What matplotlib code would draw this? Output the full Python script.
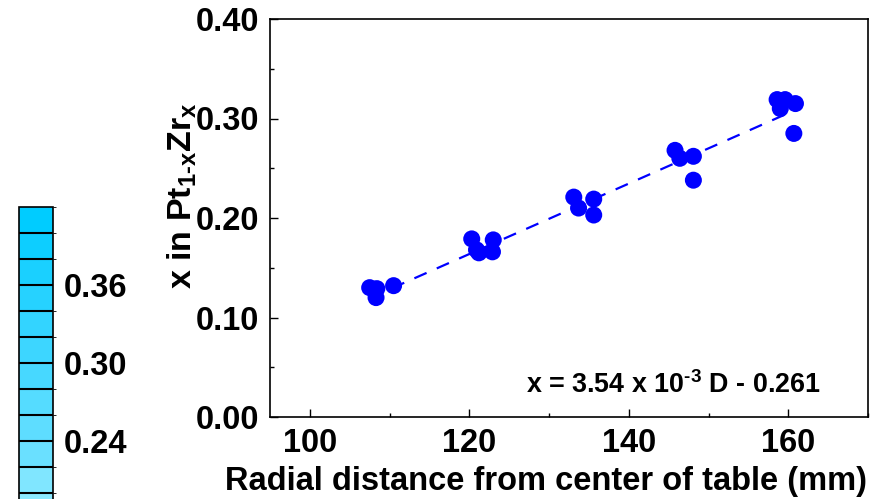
import matplotlib
matplotlib.use("Agg")
import matplotlib.pyplot as plt
import numpy as np
from matplotlib.colors import ListedColormap, BoundaryNorm
from matplotlib.cm import ScalarMappable
from matplotlib.ticker import MultipleLocator

plt.rcParams["font.family"] = ["Liberation Sans", "DejaVu Sans"]
plt.rcParams["font.weight"] = "bold"
plt.rcParams["mathtext.fontset"] = "custom"
plt.rcParams["mathtext.rm"] = "Liberation Sans:bold"
plt.rcParams["mathtext.it"] = "Liberation Sans:bold"
plt.rcParams["mathtext.bf"] = "Liberation Sans:bold"

# Measured composition vs. radial position on the deposition table
radial_mm = [107.5, 108.4, 108.3, 110.5,
             120.3, 120.9, 121.2, 123.0, 122.9,
             133.1, 133.7, 135.6, 135.6,
             145.8, 146.4, 148.1, 148.1,
             158.6, 159.0, 159.6, 160.9, 160.7]
x_zr = [0.130, 0.129, 0.120, 0.132,
        0.179, 0.168, 0.165, 0.178, 0.166,
        0.221, 0.210, 0.219, 0.203,
        0.268, 0.260, 0.262, 0.238,
        0.319, 0.310, 0.319, 0.315, 0.285]

# Linear fit: x = slope * D + intercept
fit_slope = 3.54e-3
fit_intercept = -0.261

# Composition scale bar
cbar_levels = [0.18, 0.20, 0.22, 0.24, 0.26, 0.28, 0.30, 0.32, 0.34, 0.36, 0.38, 0.40, 0.42]
cbar_ticks = [0.24, 0.30, 0.36]
cbar_colors = ["#8ce9ff", "#80e6ff", "#6ae0ff", "#5eddff", "#55dcff", "#47d8ff",
               "#3dd6ff", "#33d4ff", "#26d2ff", "#1ad0ff", "#0dceff", "#00ccff"]

FS = 23.5

fig = plt.figure(figsize=(8.79, 4.99), dpi=100)
W, H = 879, 499

ax = fig.add_axes([270 / W, 1 - 417 / H, (868 - 270) / W, (417 - 19) / H])
ax.scatter(radial_mm, x_zr, s=150, color="#0000ff", edgecolors="none", zorder=3)

d_fit = np.array([min(radial_mm), max(radial_mm)])
ax.plot(d_fit, fit_slope * d_fit + fit_intercept, color="#0000ff", lw=1.6,
        dashes=(6, 5), zorder=2)

ax.set_xlim(95, 170)
ax.set_ylim(0.0, 0.40)
ax.xaxis.set_minor_locator(MultipleLocator(10))
ax.yaxis.set_minor_locator(MultipleLocator(0.05))
ax.set_xticks([100, 120, 140, 160])
ax.set_yticks([0.0, 0.1, 0.2, 0.3, 0.4])
ax.set_yticklabels(["0.00", "0.10", "0.20", "0.30", "0.40"])
ax.tick_params(which="both", direction="in", width=1, labelsize=FS)
ax.tick_params(which="major", length=6)
ax.tick_params(which="minor", length=3)
ax.tick_params(axis="y", pad=8)
ax.tick_params(axis="x", pad=8)
for sp in ax.spines.values():
    sp.set_linewidth(1.2)

ax.set_xlabel("Radial distance from center of table (mm)", fontsize=FS,
              fontweight="bold")
ax.xaxis.set_label_coords((546 - 270) / (868 - 270), -(466 - 417) / (417 - 19))
ax.set_ylabel(r"x in Pt$_{\mathregular{1\text{-}x}}$Zr$_{\mathregular{x}}$",
              fontsize=24.5, fontweight="bold")
ax.yaxis.set_label_coords(-(270 - 199) / (868 - 270), (417 - 196) / (417 - 19))

fig.text(821 / W, 1 - 385 / H,
         r"x = 3.54 x 10$^{\mathregular{\text{-}3}}$ D - 0.261",
         fontsize=19.4, fontweight="bold", ha="right", va="center")

# Colour scale on the left
cax = fig.add_axes([19 / W, 1 - 518.7 / H, 34 / W, 312 / H])
cmap = ListedColormap(cbar_colors)
norm = BoundaryNorm(cbar_levels, cmap.N)
cb = fig.colorbar(ScalarMappable(norm=norm, cmap=cmap), cax=cax,
                  ticks=cbar_ticks, drawedges=True)
cb.outline.set_linewidth(1.2)
cb.dividers.set_linewidth(1.5)
cb.dividers.set_color("black")
cax.set_yticklabels(["0.24", "0.30", "0.36"])
cax.tick_params(length=0, pad=8, labelsize=FS)

fig.savefig("out.png", dpi=100)
